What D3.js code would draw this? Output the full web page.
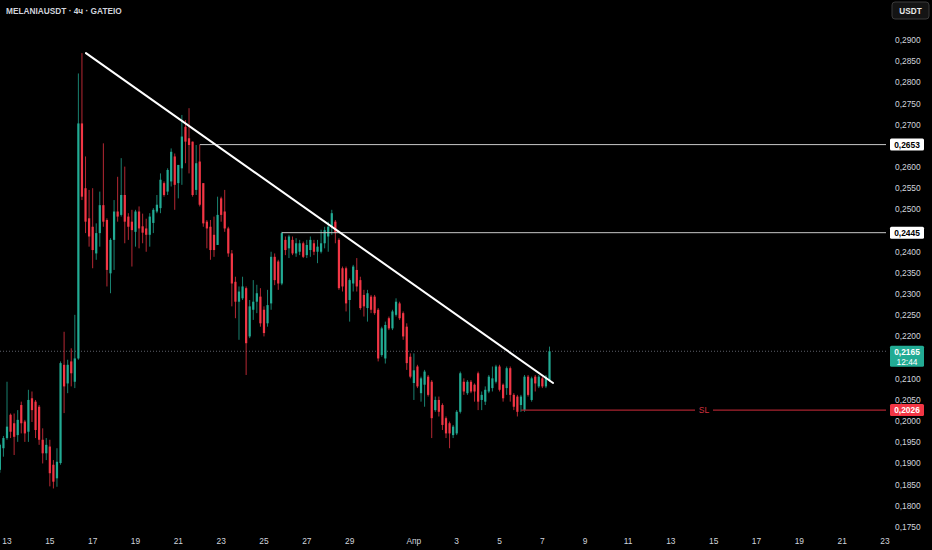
<!DOCTYPE html>
<html>
<head>
<meta charset="utf-8">
<script src="https://cdn.jsdelivr.net/npm/d3@7"></script>
<style>
  body { margin: 0; background: #000; }
  text { font-family: "Liberation Sans", Roboto, sans-serif; }
</style>
</head>
<body>
<svg id="chart" width="932" height="550"></svg>
<script>
// 4h bars, first bar Mar 12 16:00
const firstBar = new Date(2025, 2, 12, 16);
const barHours = 4;

const opens = [
  0.1885,0.1936,0.1960,0.2015,0.1995,0.1967,0.2038,0.1999,0.1975,0.2054,
  0.2046,0.2034,0.1956,0.1924,0.1940,0.1897,0.1865,0.1901,0.2133,0.2089,
  0.2141,0.2093,0.2148,0.2703,0.2550,0.2479,0.2459,0.2396,0.2444,0.2510,
  0.2475,0.2349,0.2428,0.2495,0.2487,0.2534,0.2483,0.2471,0.2447,0.2495,
  0.2460,0.2455,0.2440,0.2468,0.2495,0.2503,0.2562,0.2542,0.2566,0.2625,
  0.2562,0.2597,0.2695,0.2668,0.2660,0.2546,0.2613,0.2562,0.2471,0.2459,
  0.2440,0.2416,0.2526,0.2495,0.2455,0.2396,0.2329,0.2282,0.2290,0.2314,
  0.2200,0.2263,0.2282,0.2294,0.2263,0.2231,0.2278,0.2388,0.2377,0.2325,
  0.2428,0.2408,0.2428,0.2396,0.2400,0.2420,0.2392,0.2404,0.2420,0.2400,
  0.2400,0.2420,0.2436,0.2459,0.2471,0.2428,0.2361,0.2361,0.2286,0.2325,
  0.2357,0.2333,0.2298,0.2267,0.2294,0.2294,0.2263,0.2156,0.2148,0.2243,
  0.2219,0.2251,0.2278,0.2255,0.2223,0.2152,0.2090,0.2129,0.2066,0.2086,
  0.2105,0.2093,0.2026,0.2050,0.2038,0.2007,0.1995,0.1967,0.1971,0.2022,
  0.2093,0.2066,0.2093,0.2086,0.2113,0.2050,0.2046,0.2070,0.2078,0.2093,
  0.2129,0.2086,0.2078,0.2125,0.2062,0.2058,0.2038,0.2026,0.2105,0.2050,
  0.2105,0.2082,0.2101,0.2082,0.2097
];
const highs = [
  0.1947,0.1965,0.2093,0.2018,0.2018,0.2026,0.2046,0.2003,0.2074,0.2070,
  0.2050,0.2038,0.1983,0.1960,0.1956,0.1908,0.1936,0.2141,0.2211,0.2145,
  0.2172,0.2251,0.2821,0.2869,0.2625,0.2546,0.2550,0.2467,0.2542,0.2656,
  0.2479,0.2432,0.2522,0.2577,0.2621,0.2601,0.2491,0.2499,0.2499,0.2507,
  0.2490,0.2478,0.2491,0.2503,0.2534,0.2585,0.2566,0.2597,0.2644,0.2632,
  0.2605,0.2723,0.2711,0.2739,0.2660,0.2652,0.2652,0.2562,0.2475,0.2475,
  0.2483,0.2530,0.2530,0.2546,0.2459,0.2404,0.2341,0.2318,0.2341,0.2318,
  0.2286,0.2333,0.2322,0.2314,0.2271,0.2310,0.2400,0.2396,0.2381,0.2447,
  0.2436,0.2440,0.2436,0.2432,0.2428,0.2424,0.2428,0.2436,0.2428,0.2428,
  0.2452,0.2459,0.2471,0.2499,0.2475,0.2432,0.2365,0.2365,0.2337,0.2369,
  0.2385,0.2341,0.2310,0.2310,0.2298,0.2298,0.2267,0.2223,0.2235,0.2247,
  0.2263,0.2290,0.2282,0.2259,0.2231,0.2160,0.2160,0.2133,0.2105,0.2121,
  0.2109,0.2097,0.2058,0.2058,0.2042,0.2011,0.1999,0.1991,0.2026,0.2117,
  0.2101,0.2097,0.2097,0.2089,0.2117,0.2070,0.2082,0.2109,0.2129,0.2133,
  0.2133,0.2089,0.2129,0.2129,0.2066,0.2062,0.2062,0.2109,0.2109,0.2105,
  0.2109,0.2109,0.2105,0.2109,0.2176
];
const lows = [
  0.1878,0.1916,0.1956,0.1960,0.1920,0.1951,0.1971,0.1951,0.1951,0.1998,
  0.1960,0.1944,0.1900,0.1908,0.1846,0.1841,0.1845,0.1897,0.2019,0.2066,
  0.2082,0.2078,0.2145,0.2522,0.2444,0.2412,0.2361,0.2381,0.2412,0.2459,
  0.2318,0.2302,0.2357,0.2471,0.2483,0.2420,0.2428,0.2365,0.2412,0.2408,
  0.2420,0.2400,0.2412,0.2444,0.2491,0.2491,0.2530,0.2534,0.2554,0.2499,
  0.2526,0.2558,0.2609,0.2585,0.2530,0.2534,0.2507,0.2459,0.2408,0.2381,
  0.2388,0.2416,0.2471,0.2447,0.2388,0.2271,0.2243,0.2192,0.2286,0.2109,
  0.2196,0.2239,0.2255,0.2223,0.2200,0.2223,0.2263,0.2321,0.2310,0.2321,
  0.2392,0.2385,0.2392,0.2388,0.2392,0.2385,0.2385,0.2388,0.2392,0.2373,
  0.2396,0.2408,0.2400,0.2440,0.2420,0.2310,0.2306,0.2259,0.2235,0.2306,
  0.2306,0.2263,0.2247,0.2235,0.2255,0.2251,0.2141,0.2152,0.2136,0.2215,
  0.2215,0.2247,0.2239,0.2192,0.2121,0.2101,0.2050,0.2078,0.2046,0.2034,
  0.2058,0.1960,0.2022,0.2011,0.1979,0.1960,0.1936,0.1960,0.1967,0.2018,
  0.2062,0.2062,0.2066,0.2046,0.2026,0.2026,0.2038,0.2066,0.2070,0.2089,
  0.2070,0.2046,0.2062,0.2046,0.2026,0.2011,0.2022,0.2022,0.2058,0.2046,
  0.2070,0.2078,0.2078,0.2078,0.2093
];
const closes = [
  0.1944,0.1960,0.1987,0.1975,0.1963,0.2003,0.1995,0.1971,0.2050,0.2026,
  0.1979,0.1956,0.1924,0.1944,0.1877,0.1857,0.1904,0.2137,0.2082,0.2133,
  0.2113,0.2148,0.2703,0.2530,0.2471,0.2436,0.2404,0.2444,0.2510,0.2471,
  0.2357,0.2428,0.2495,0.2483,0.2534,0.2471,0.2459,0.2451,0.2495,0.2455,
  0.2445,0.2440,0.2483,0.2499,0.2511,0.2570,0.2534,0.2593,0.2636,0.2558,
  0.2605,0.2672,0.2660,0.2652,0.2534,0.2609,0.2511,0.2467,0.2455,0.2404,
  0.2404,0.2487,0.2487,0.2455,0.2396,0.2325,0.2282,0.2306,0.2318,0.2184,
  0.2271,0.2282,0.2302,0.2231,0.2208,0.2274,0.2388,0.2333,0.2325,0.2444,
  0.2404,0.2436,0.2396,0.2420,0.2420,0.2388,0.2416,0.2428,0.2400,0.2412,
  0.2420,0.2451,0.2459,0.2491,0.2444,0.2314,0.2318,0.2278,0.2333,0.2365,
  0.2318,0.2267,0.2271,0.2302,0.2263,0.2255,0.2148,0.2219,0.2227,0.2219,
  0.2259,0.2282,0.2243,0.2200,0.2137,0.2105,0.2120,0.2082,0.2101,0.2117,
  0.2062,0.2007,0.2050,0.2022,0.1991,0.1971,0.1971,0.1987,0.2022,0.2113,
  0.2070,0.2093,0.2070,0.2070,0.2046,0.2062,0.2074,0.2105,0.2101,0.2129,
  0.2074,0.2054,0.2125,0.2062,0.2034,0.2022,0.2058,0.2105,0.2062,0.2101,
  0.2089,0.2105,0.2082,0.2105,0.2165
];

const priceTicks = [
  0.1750,0.1800,0.1850,0.1900,0.1950,0.2000,0.2050,0.2100,0.2150,0.2200,
  0.2250,0.2300,0.2350,0.2400,0.2450,0.2500,0.2550,0.2600,0.2650,0.2700,
  0.2750,0.2800,0.2850,0.2900
];
const dateTicks = [
  new Date(2025,2,13), new Date(2025,2,15), new Date(2025,2,17), new Date(2025,2,19),
  new Date(2025,2,21), new Date(2025,2,23), new Date(2025,2,25), new Date(2025,2,27),
  new Date(2025,2,29), new Date(2025,3,1), new Date(2025,3,3), new Date(2025,3,5),
  new Date(2025,3,7), new Date(2025,3,9), new Date(2025,3,11), new Date(2025,3,13),
  new Date(2025,3,15), new Date(2025,3,17), new Date(2025,3,19), new Date(2025,3,21),
  new Date(2025,3,23)
];
const dateLabels = ["13","15","17","19","21","23","25","27","29","Апр","3","5","7","9","11","13","15","17","19","21","23"];

// drawn levels
const levelPrices = [0.2653, 0.2445];
const levelStartBars = [56, 79];
const slPrice = 0.2026;
const slStartBar = 146;
const trendStart = { t: new Date(2025, 2, 16, 16, 30), p: 0.2869 };
const trendEnd = { t: new Date(2025, 3, 7, 12, 0), p: 0.2090 };
const lastPrice = 0.2165;
const countdown = "12:44";
const title = "MELANIAUSDT · 4ч · GATEIO";

const up = "#22ab94", down = "#f23645";
const plotRight = 886;

const bars = opens.map((o, i) => ({
  t: d3.timeHour.offset(firstBar, i * barHours),
  o: o, h: highs[i], l: lows[i], c: closes[i]
}));

const svg = d3.select("#chart");
svg.append("rect").attr("width", 932).attr("height", 550).attr("fill", "#000");

const x = d3.scaleTime()
  .domain([new Date(2025, 2, 13), new Date(2025, 3, 23)])
  .range([7, 885]);
const y = d3.scaleLinear().domain([0.175, 0.29]).range([527, 40]);

const fmt = v => d3.format(".4f")(v).replace(".", ",");

const plot = svg.append("g");

// last price dotted line
plot.append("line")
  .attr("x1", 0).attr("x2", plotRight)
  .attr("y1", y(lastPrice)).attr("y2", y(lastPrice))
  .attr("stroke", "#5d606b").attr("stroke-dasharray", "1,2");

// candles
const step = x(d3.timeHour.offset(firstBar, barHours)) - x(firstBar);
const bw = step * 0.62;
const candle = plot.append("g").selectAll("g").data(bars).join("g");
candle.append("line")
  .attr("x1", d => x(d.t)).attr("x2", d => x(d.t))
  .attr("y1", d => y(d.h)).attr("y2", d => y(d.l))
  .attr("stroke", d => d.c >= d.o ? up : down)
  .attr("stroke-width", 1).attr("opacity", 0.75);
candle.append("rect")
  .attr("x", d => x(d.t) - bw / 2)
  .attr("width", bw)
  .attr("y", d => y(Math.max(d.o, d.c)))
  .attr("height", d => Math.max(1, Math.abs(y(d.o) - y(d.c))))
  .attr("fill", d => d.c >= d.o ? up : down);

// horizontal levels
levelPrices.forEach((p, k) => {
  plot.append("line")
    .attr("x1", x(bars[levelStartBars[k]].t)).attr("x2", plotRight)
    .attr("y1", y(p)).attr("y2", y(p))
    .attr("stroke", "#c8c8c8").attr("stroke-width", 1);
});

// SL line with label gap
const slY = y(slPrice);
const slX0 = x(bars[slStartBar].t);
const slMid = 704;
plot.append("line").attr("x1", slX0).attr("x2", slMid - 9)
  .attr("y1", slY).attr("y2", slY).attr("stroke", "#a8232f").attr("stroke-width", 1.2);
plot.append("line").attr("x1", slMid + 9).attr("x2", plotRight)
  .attr("y1", slY).attr("y2", slY).attr("stroke", "#a8232f").attr("stroke-width", 1.2);
plot.append("text").attr("x", slMid).attr("y", slY + 3.2)
  .attr("text-anchor", "middle").attr("font-size", 8.5).attr("fill", "#d0313f")
  .text("SL");

// trend line
plot.append("line")
  .attr("x1", x(trendStart.t)).attr("y1", y(trendStart.p))
  .attr("x2", x(trendEnd.t)).attr("y2", y(trendEnd.p))
  .attr("stroke", "#ffffff").attr("stroke-width", 2).attr("stroke-linecap", "round");

// price axis labels and boxes
const boxX = 890, boxW = 34;
const boxes = [
  { p: levelPrices[0], top: y(levelPrices[0]) - 6, h: 12, bg: "#ffffff", fg: "#000", lines: [fmt(levelPrices[0])] },
  { p: levelPrices[1], top: y(levelPrices[1]) - 6, h: 12, bg: "#ffffff", fg: "#000", lines: [fmt(levelPrices[1])] },
  { p: lastPrice, top: y(lastPrice) - 5.5, h: 21, bg: up, fg: "#fff", lines: [fmt(lastPrice), countdown] },
  { p: slPrice, top: y(slPrice) - 6, h: 12, bg: down, fg: "#fff", lines: [fmt(slPrice)] }
];
const axis = svg.append("g");
priceTicks.forEach(p => {
  const ty = y(p);
  const hidden = boxes.some(b => ty > b.top + 1 && ty < b.top + b.h - 1);
  if (hidden) return;
  axis.append("text").attr("x", 895).attr("y", ty + 3)
    .attr("font-size", 8.4).attr("fill", "#d1d4dc").text(fmt(p));
});
boxes.forEach(b => {
  axis.append("rect").attr("x", boxX).attr("y", b.top).attr("width", boxW).attr("height", b.h)
    .attr("rx", 1.5).attr("fill", b.bg);
  b.lines.forEach((s, j) => {
    axis.append("text").attr("x", boxX + boxW / 2).attr("y", b.top + 9 + j * 10)
      .attr("text-anchor", "middle").attr("font-size", 8.4)
      .attr("font-weight", j === 0 ? 600 : 400).attr("fill", b.fg).text(s);
  });
});

// time axis labels
dateTicks.forEach((d, k) => {
  axis.append("text").attr("x", x(d)).attr("y", 544)
    .attr("text-anchor", "middle").attr("font-size", 8.4).attr("fill", "#d1d4dc")
    .text(dateLabels[k]);
});

// header
svg.append("text").attr("x", 6).attr("y", 14)
  .attr("font-size", 8.3).attr("font-weight", 600).attr("fill", "#d1d4dc").text(title);
svg.append("rect").attr("x", 892).attr("y", 2).attr("width", 37).attr("height", 17)
  .attr("rx", 3).attr("fill", "#141414").attr("stroke", "#3a3a3a");
svg.append("text").attr("x", 910.5).attr("y", 13.5).attr("text-anchor", "middle")
  .attr("font-size", 8.2).attr("font-weight", 700).attr("fill", "#e8e8e8").text("USDT");
</script>
</body>
</html>
